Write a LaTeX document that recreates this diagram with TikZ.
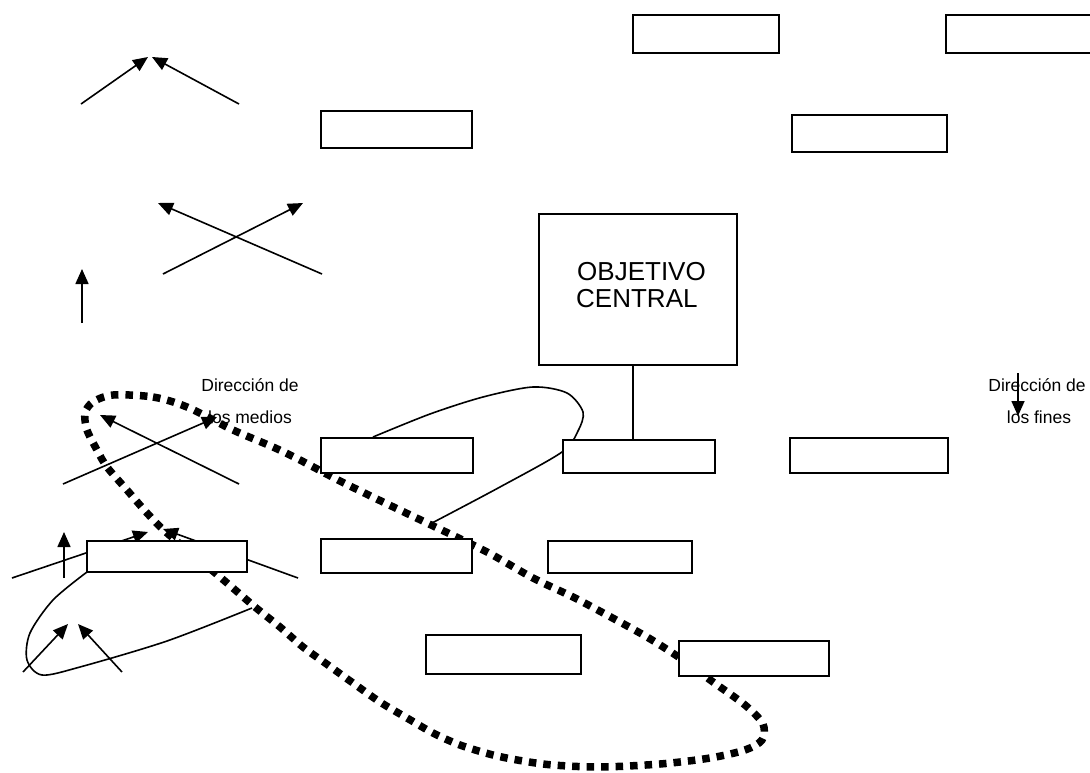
\documentclass[tikz,border=0pt]{standalone}
\usepackage{fontspec}
\setmainfont{Liberation Sans}
\usetikzlibrary{arrows.meta}
\tikzset{
  box/.style={draw, line width=1.6pt, fill=white, inner sep=0pt, outer sep=0pt, anchor=north west},
  arr/.style={line width=1.6pt, -{Triangle[length=15pt,width=13pt]}},
  curve/.style={line width=1.6pt},
  dots/.style={line width=7.5pt, dash pattern=on 7.5pt off 7pt},
  lbl/.style={font=\fontsize{17.5}{20}\selectfont, inner sep=0pt, anchor=base},
  big/.style={font=\fontsize{26}{28}\selectfont, inner sep=0pt, anchor=base west},
}
\begin{document}
\begin{tikzpicture}[x=1pt,y=-1pt]
\useasboundingbox (0,0) rectangle (1090,772);

% dotted loop
\draw[dots] plot[smooth cycle] coordinates {
(113,395) (153,397) (187,407) (233,430) (273,447) (300,460) (340,481) (383,502)
(427,523) (487,552) (533,578) (573,597) (607,615) (647,637) (680,658) (713,682)
(745,705) (763,724) (762,740) (745,750) (710,758) (660,764) (600,767) (553,765)
(523,761) (493,755) (460,745) (433,733) (407,718) (380,702) (353,683) (328,665)
(303,647) (280,627) (255,607) (220,577) (167,533) (147,513) (127,490) (107,467)
(97,450) (87,430) (85,413) (93,402)};

% solid curves
\draw[curve] plot[smooth] coordinates {(373,437) (430,414) (483,397) (533,387) (567,393) (583,412) (578,431) (562,452) (500,487) (432,523)};
\draw[curve] plot[smooth] coordinates {(87,572) (53,600) (30,633) (27,660) (42,675) (80,667) (167,641) (252,608)};

% arrows
\coordinate (a1s) at (81,104);  \coordinate (a1e) at (148,57);
\coordinate (a2s) at (239,104); \coordinate (a2e) at (152,57);
\coordinate (a3s) at (163,274); \coordinate (a3e) at (303,203);
\coordinate (a4s) at (322,274); \coordinate (a4e) at (158,203);
\coordinate (a5s) at (82,323);  \coordinate (a5e) at (82,269);
\coordinate (a6s) at (63,484);  \coordinate (a6e) at (217,417);
\coordinate (a7s) at (239,484); \coordinate (a7e) at (100,415);
\coordinate (a8s) at (64,578);  \coordinate (a8e) at (64,532);
\coordinate (a9s) at (12,578);  \coordinate (a9e) at (148,532);
\coordinate (a10s) at (298,578); \coordinate (a10e) at (163,529);
\coordinate (a11s) at (23,672); \coordinate (a11e) at (68,624);
\coordinate (a12s) at (122,672); \coordinate (a12e) at (78,624);
\coordinate (a13s) at (1018,373); \coordinate (a13e) at (1018,416);
\foreach \i in {1,...,13} {\draw[arr] (a\i s) -- (a\i e);}

% boxes
\node[box, minimum width=146pt, minimum height=38pt] (t1) at (633,15) {};
\node[box, minimum width=160pt, minimum height=38pt] (t2) at (946,15) {};
\node[box, minimum width=151pt, minimum height=37pt] (b1) at (321,111) {};
\node[box, minimum width=155pt, minimum height=37pt] (t3) at (792,115) {};
\node[box, minimum width=198pt, minimum height=151pt] (central) at (539,214) {};
\node[box, minimum width=152pt, minimum height=35pt] (r3a) at (321,438) {};
\node[box, minimum width=152pt, minimum height=33pt] (r3b) at (563,440) {};
\node[box, minimum width=158pt, minimum height=35pt] (r3c) at (790,438) {};
\node[box, minimum width=160pt, minimum height=31pt] (l4) at (87,541) {};
\node[box, minimum width=151pt, minimum height=34pt] (r4a) at (321,539) {};
\node[box, minimum width=144pt, minimum height=32pt] (r4b) at (548,541) {};
\node[box, minimum width=155pt, minimum height=39pt] (r5a) at (426,635) {};
\node[box, minimum width=150pt, minimum height=35pt] (r5b) at (679,641) {};

\draw[line width=1.6pt] ([xshift=-5pt]central.south) -- ([xshift=-5pt]central.south |- r3b.north);

% texts
\node[big] (obj1) at (577,280) {OBJETIVO};
\node[big] (obj2) at (576,307) {CENTRAL};
\node[lbl] (m1) at (250,391) {Dirección de};
\node[lbl] (m2) at (250,423) {los medios};
\node[lbl] (f1) at (1037,391) {Dirección de};
\node[lbl] (f2) at (1039,423) {los fines};
\end{tikzpicture}
\end{document}
